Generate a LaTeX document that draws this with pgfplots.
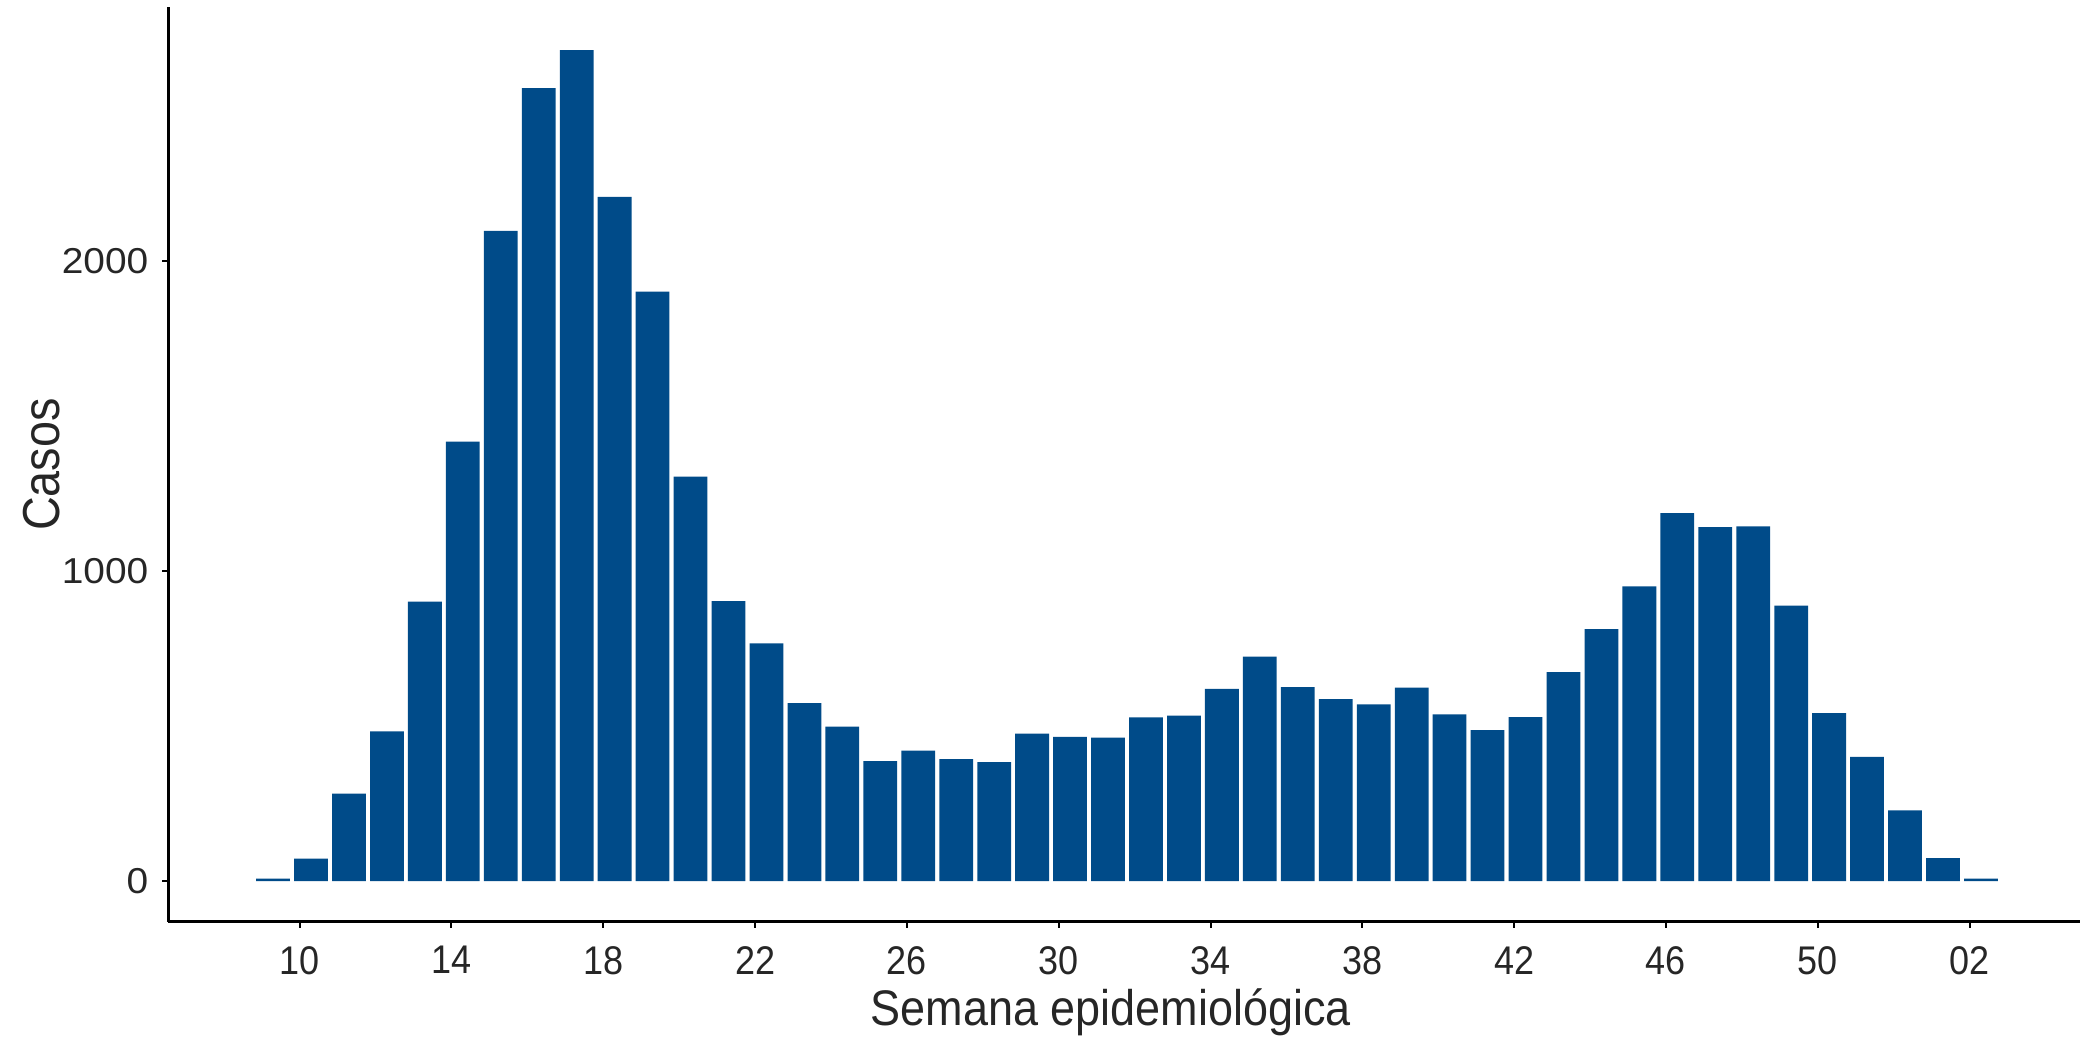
\documentclass[border=0pt]{standalone}
\usepackage{pgfplots}
\pgfplotsset{compat=1.18}
\usepackage{pgfplotstable}
\usepackage{fontspec}
\setmainfont{Liberation Sans}
\newfontfamily\narrowfont[FakeStretch=0.9]{Liberation Sans}
\newfontfamily\widefont[FakeStretch=1.08]{Liberation Sans}
\definecolor{barblue}{HTML}{004B89}
\definecolor{txt}{HTML}{262626}
\pgfplotstableread{
idx casos
9 8
10 72
11 282
12 483
13 902
14 1418
15 2098
16 2559
17 2682
18 2208
19 1902
20 1305
21 903
22 767
23 574
24 498
25 387
26 421
27 393
28 384
29 476
30 465
31 463
32 528
33 534
34 620
35 724
36 626
37 587
38 570
39 624
40 538
41 487
42 529
43 674
44 813
45 951
46 1187
47 1142
48 1145
49 889
50 542
51 401
52 228
53 74
54 8
}\datatable
\begin{document}
\begin{tikzpicture}
\begin{axis}[
  scale only axis,
  width=477.875pt, height=228.75pt,
  xmin=6.545, xmax=56.91,
  ymin=-132.3, ymax=2821,
  axis x line*=bottom, axis y line*=left,
  axis line style={-, line width=0.75pt, black},
  xtick={10,14,18,22,26,30,34,38,42,46,50,54},
  xticklabels={10,14,18,22,26,30,34,38,42,46,50,02},
  ytick={0,1000,2000},
  tick align=outside,
  major tick length=1.5pt,
  tick style={line width=0.5pt, black},
  /pgf/number format/assume math mode=true,
  /pgf/number format/1000 sep={},
  xticklabel style={font=\narrowfont\fontsize{10}{12}\selectfont, text=txt, yshift=-1pt},
  yticklabel style={font=\widefont\fontsize{9}{11}\selectfont, text=txt},
  xlabel={Semana epidemiológica},
  ylabel={Casos},
  label style={font=\narrowfont\fontsize{12.5}{15}\selectfont, text=txt, inner sep=0pt},
  xlabel style={at={(axis description cs:0.493,-0.1126)}, anchor=base},
  ylabel style={font=\narrowfont\fontsize{13}{15}\selectfont, at={(axis description cs:-0.0569,0.5)}, anchor=base},
  ybar, bar width=0.89,
]
\addplot[fill=barblue, draw=none] table[x expr=\thisrow{idx}+0.3, y=casos] {\datatable};
\end{axis}
\pgfresetboundingbox
\path (-42.125pt,-29.25pt) rectangle (477.875pt,230.5pt);
\end{tikzpicture}
\end{document}
